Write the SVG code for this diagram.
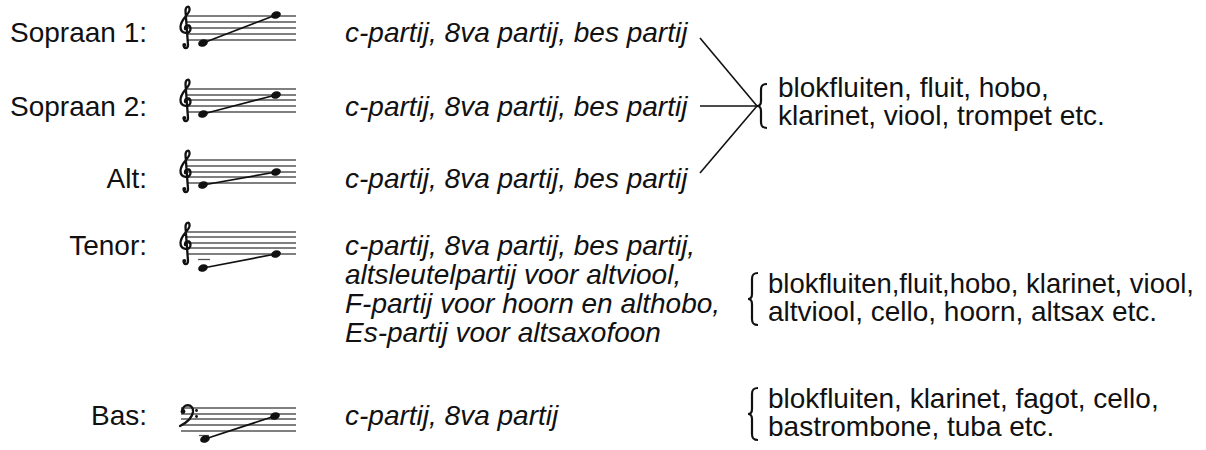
<svg xmlns="http://www.w3.org/2000/svg" width="1206" height="450" viewBox="0 0 1206 450">
<defs>
<style>
text{font-family:"Liberation Sans",Arial,Helvetica,sans-serif;font-size:28px;fill:#111}
.lab{text-anchor:end}
.it{font-style:italic}
.staff line{stroke:#555;stroke-width:1.3}
.clef{fill:none;stroke:#111;stroke-width:2.3;stroke-linecap:round}
.note{fill:#111}
.stem{stroke:#111;stroke-width:1.7}
.con{stroke:#111;stroke-width:1.6;fill:none}
.brace{stroke:#111;stroke-width:2.2;fill:none}
</style>
<g id="treble"><path class="clef" d="M4 31 C3 35,8 35,8 31 L5.5 -3 C5.5 -8,10 -9,9.5 -4 C9 1,0.5 5,0.5 13 C0.5 20,10.5 21,10.5 15 C10.5 10,4.5 10,5 15"/><circle cx="4.3" cy="31" r="2" fill="#111"/></g>
</defs>

<g id="row-sopraan1">
<text class="lab" x="147" y="42">Sopraan 1:</text>
<g class="staff"><line x1="187" y1="16" x2="296" y2="16"/><line x1="187" y1="22" x2="296" y2="22"/><line x1="187" y1="28" x2="296" y2="28"/><line x1="187" y1="34" x2="296" y2="34"/><line x1="187" y1="40" x2="296" y2="40"/></g>
<use href="#treble" transform="translate(180,14)"/>
<ellipse class="note" cx="203" cy="43" rx="5" ry="3.6" transform="rotate(-20 203 43)"/>
<ellipse class="note" cx="276" cy="15" rx="5" ry="3.6" transform="rotate(-20 276 15)"/>
<line class="stem" x1="203" y1="43" x2="276" y2="15"/>
<text class="it" x="345" y="42">c-partij, 8va partij, bes partij</text>
</g>

<g id="row-sopraan2">
<text class="lab" x="147" y="116">Sopraan 2:</text>
<g class="staff"><line x1="187" y1="89" x2="296" y2="89"/><line x1="187" y1="95" x2="296" y2="95"/><line x1="187" y1="100" x2="296" y2="100"/><line x1="187" y1="106" x2="296" y2="106"/><line x1="187" y1="112" x2="296" y2="112"/></g>
<use href="#treble" transform="translate(180,87)"/>
<ellipse class="note" cx="203" cy="114" rx="5" ry="3.6" transform="rotate(-20 203 114)"/>
<ellipse class="note" cx="276" cy="95" rx="5" ry="3.6" transform="rotate(-20 276 95)"/>
<line class="stem" x1="203" y1="114" x2="276" y2="95"/>
<text class="it" x="345" y="116">c-partij, 8va partij, bes partij</text>
</g>

<g id="row-alt">
<text class="lab" x="147" y="188">Alt:</text>
<g class="staff"><line x1="187" y1="160" x2="296" y2="160"/><line x1="187" y1="166" x2="296" y2="166"/><line x1="187" y1="172" x2="296" y2="172"/><line x1="187" y1="177" x2="296" y2="177"/><line x1="187" y1="183" x2="296" y2="183"/></g>
<use href="#treble" transform="translate(180,158)"/>
<ellipse class="note" cx="203" cy="185" rx="5" ry="3.6" transform="rotate(-20 203 185)"/>
<ellipse class="note" cx="276" cy="172" rx="5" ry="3.6" transform="rotate(-20 276 172)"/>
<line class="stem" x1="203" y1="185" x2="276" y2="172"/>
<text class="it" x="345" y="188">c-partij, 8va partij, bes partij</text>
</g>

<g id="row-tenor">
<text class="lab" x="147" y="255">Tenor:</text>
<g class="staff"><line x1="187" y1="232" x2="296" y2="232"/><line x1="187" y1="237" x2="296" y2="237"/><line x1="187" y1="243" x2="296" y2="243"/><line x1="187" y1="248" x2="296" y2="248"/><line x1="187" y1="254" x2="296" y2="254"/><line x1="198" y1="259.5" x2="210" y2="259.5"/></g>
<use href="#treble" transform="translate(180,230)"/>
<ellipse class="note" cx="203" cy="268" rx="5" ry="3.6" transform="rotate(-20 203 268)"/>
<ellipse class="note" cx="276" cy="254" rx="5" ry="3.6" transform="rotate(-20 276 254)"/>
<line class="stem" x1="203" y1="268" x2="276" y2="254"/>
<text class="it" x="345" y="255">c-partij, 8va partij, bes partij,</text>
<text class="it" x="345" y="284">altsleutelpartij voor altviool,</text>
<text class="it" x="345" y="313">F-partij voor hoorn en althobo,</text>
<text class="it" x="345" y="342">Es-partij voor altsaxofoon</text>
</g>

<g id="row-bas">
<text class="lab" x="147" y="425">Bas:</text>
<g class="staff"><line x1="181" y1="408" x2="296" y2="408"/><line x1="181" y1="414" x2="296" y2="414"/><line x1="181" y1="419" x2="296" y2="419"/><line x1="181" y1="425" x2="296" y2="425"/><line x1="181" y1="431" x2="296" y2="431"/><line x1="199" y1="435.5" x2="209" y2="435.5"/></g>
<path class="clef" d="M182 412 C182 403,194 403,193 412 C192 419,186 423,180 426"/>
<circle cx="183" cy="411.5" r="2.4" fill="#111"/>
<circle cx="196.5" cy="410.5" r="1.4" fill="#111"/>
<circle cx="196.5" cy="416.5" r="1.4" fill="#111"/>
<ellipse class="note" cx="205" cy="439" rx="5" ry="3.6" transform="rotate(-20 205 439)"/>
<ellipse class="note" cx="275" cy="416" rx="5" ry="3.6" transform="rotate(-20 275 416)"/>
<line class="stem" x1="205" y1="439" x2="275" y2="416"/>
<text class="it" x="345" y="425">c-partij, 8va partij</text>
</g>

<g id="connectors">
<line class="con" x1="700" y1="38" x2="757" y2="106"/>
<line class="con" x1="700" y1="106" x2="757" y2="106"/>
<line class="con" x1="700" y1="173" x2="757" y2="106"/>
</g>

<g id="group-sopraan-alt">
<path class="brace" d="M767 84 C762 84,761 86,761 90 L761 101 C761 104,760 106,757 106 C760 106,761 108,761 111 L761 122 C761 126,762 128,767 128"/>
<text x="778" y="97">blokfluiten, fluit, hobo,</text>
<text x="778" y="125">klarinet, viool, trompet etc.</text>
</g>

<g id="group-tenor">
<path class="brace" d="M758 273 C753 273,752 275,752 279 L752 294 C752 297,751 299,748 299 C751 299,752 301,752 304 L752 319 C752 323,753 325,758 325"/>
<text x="768" y="293" textLength="426" lengthAdjust="spacingAndGlyphs">blokfluiten,fluit,hobo, klarinet, viool,</text>
<text x="768" y="321">altviool, cello, hoorn, altsax etc.</text>
</g>

<g id="group-bas">
<path class="brace" d="M758 388 C753 388,752 390,752 394 L752 409 C752 412,751 414,748 414 C751 414,752 416,752 419 L752 434 C752 438,753 440,758 440"/>
<text x="768" y="408">blokfluiten, klarinet, fagot, cello,</text>
<text x="768" y="436">bastrombone, tuba etc.</text>
</g>
</svg>
